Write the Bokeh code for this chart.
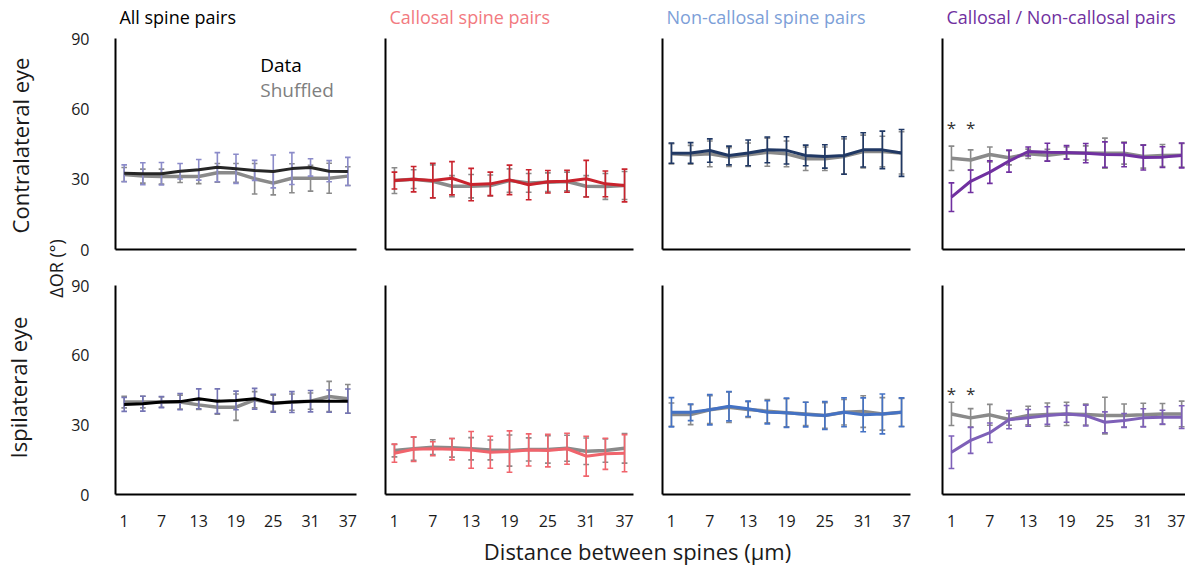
import math
from bokeh.plotting import figure
from bokeh.layouts import row, column
from bokeh.models import FixedTicker, Label, Range1d
from bokeh.embed import file_html
from bokeh.resources import INLINE
from bokeh.core.properties import value

# ---------------- data ----------------
distance = [1, 4, 7, 10, 13, 16, 19, 22, 25, 28, 31, 34, 37]
x_ticks = [1, 7, 13, 19, 25, 31, 37]
y_ticks = [0, 30, 60, 90]

col_titles = ["All spine pairs", "Callosal spine pairs",
              "Non-callosal spine pairs", "Callosal / Non-callosal pairs"]
row_titles = ["Contralateral eye", "Ispilateral eye"]
y_label = "\u0394OR (\u00b0)"
x_label = "Distance between spines (\u00b5m)"
legend_labels = ["Data", "Shuffled"]

# Contralateral eye
contra_all = [32.5, 32.3, 32.3, 33.4, 34.0, 35.1, 34.4, 33.7, 33.3, 34.5, 35.0, 33.4, 33.3]
contra_all_err = [3.6, 4.7, 4.8, 3.3, 4.4, 6.2, 6.2, 4.3, 7.0, 6.8, 3.7, 4.5, 6.0]
contra_all_shuf = [32.0, 31.3, 31.1, 31.1, 31.1, 32.7, 32.7, 30.2, 28.3, 30.4, 30.4, 30.4, 31.3]
contra_all_shuf_err = [3.0, 3.0, 3.2, 2.5, 3.0, 4.0, 4.0, 6.5, 5.0, 6.2, 5.5, 6.4, 4.0]

contra_cal = [29.4, 30.0, 29.4, 30.4, 27.7, 28.0, 29.7, 27.6, 28.9, 29.1, 30.2, 28.0, 27.3]
contra_cal_err = [3.6, 5.4, 7.4, 7.1, 6.9, 5.0, 6.3, 6.4, 4.8, 4.7, 7.8, 5.5, 7.0]
contra_cal_shuf = [29.4, 30.0, 29.1, 27.0, 27.0, 27.3, 29.4, 28.4, 28.7, 29.0, 27.0, 26.9, 27.3]
contra_cal_shuf_err = [5.5, 4.0, 7.0, 4.5, 5.0, 4.5, 5.0, 4.0, 4.0, 4.0, 4.5, 5.5, 6.0]

contra_non = [41.1, 41.2, 42.2, 40.1, 41.2, 42.5, 42.3, 40.1, 39.7, 40.1, 42.5, 42.5, 41.2]
contra_non_err = [4.3, 4.4, 5.0, 4.0, 5.5, 5.5, 5.8, 4.4, 5.0, 8.0, 7.3, 8.0, 10.0]
contra_non_shuf = [40.8, 40.4, 40.8, 39.4, 40.4, 41.5, 40.8, 38.7, 38.7, 39.7, 41.8, 41.8, 41.2]
contra_non_shuf_err = [4.3, 4.0, 5.5, 4.0, 5.0, 6.0, 5.5, 5.0, 5.0, 7.5, 7.0, 6.5, 9.0]

contra_ratio = [22.3, 29.1, 33.0, 37.7, 41.8, 41.5, 41.4, 41.1, 40.5, 40.4, 39.2, 39.4, 40.1]
contra_ratio_err = [6.1, 4.8, 4.8, 4.7, 1.9, 3.8, 2.9, 4.1, 5.4, 5.1, 5.3, 4.4, 5.3]
contra_ratio_shuf = [38.9, 38.2, 40.5, 39.1, 40.8, 40.2, 41.2, 41.2, 41.1, 41.1, 39.7, 40.1, 40.2]
contra_ratio_shuf_err = [5.2, 4.3, 3.2, 3.0, 2.0, 2.5, 2.5, 3.0, 6.4, 4.7, 5.0, 4.7, 5.0]

# Ipsilateral eye
ipsi_all = [38.8, 39.1, 39.8, 40.0, 41.2, 40.2, 40.5, 41.2, 39.3, 39.8, 40.2, 40.2, 40.2]
ipsi_all_err = [3.0, 3.2, 2.4, 3.5, 4.3, 5.3, 4.0, 4.5, 3.9, 4.5, 4.6, 4.8, 5.2]
ipsi_all_shuf = [39.8, 39.8, 39.8, 39.8, 38.6, 37.6, 37.6, 40.8, 39.3, 39.8, 40.2, 42.2, 41.2]
ipsi_all_shuf_err = [2.5, 2.5, 2.2, 3.0, 2.0, 3.0, 5.7, 3.5, 3.5, 3.5, 3.5, 6.5, 6.2]

ipsi_cal = [17.8, 19.5, 19.7, 19.5, 19.2, 18.2, 18.5, 19.2, 18.9, 19.7, 16.5, 17.5, 17.8]
ipsi_cal_err = [3.9, 5.3, 3.0, 4.6, 7.9, 6.9, 8.9, 6.9, 7.0, 6.7, 8.6, 6.7, 8.0]
ipsi_cal_shuf = [18.9, 19.7, 20.4, 20.1, 19.7, 19.2, 18.9, 19.4, 19.4, 19.9, 18.6, 18.9, 19.9]
ipsi_cal_shuf_err = [2.7, 5.0, 3.2, 4.0, 4.8, 4.3, 6.7, 5.0, 5.9, 5.6, 5.7, 5.0, 6.4]

ipsi_non = [35.4, 35.4, 36.5, 38.0, 36.9, 35.4, 35.2, 34.4, 34.0, 35.4, 34.3, 34.7, 35.4]
ipsi_non_err = [6.3, 3.6, 6.5, 6.3, 3.3, 5.0, 6.3, 5.3, 6.0, 6.2, 7.3, 8.6, 6.2]
ipsi_non_shuf = [34.4, 34.4, 36.5, 37.6, 36.6, 35.9, 35.2, 34.7, 34.0, 35.4, 35.7, 34.7, 35.4]
ipsi_non_shuf_err = [5.0, 4.3, 6.0, 6.6, 3.4, 5.0, 6.0, 5.0, 5.5, 5.5, 6.8, 7.0, 6.0]

ipsi_ratio = [18.2, 23.3, 26.6, 32.2, 33.0, 34.0, 34.7, 34.0, 31.1, 31.9, 33.0, 33.3, 33.3]
ipsi_ratio_err = [7.0, 5.6, 4.2, 3.9, 3.6, 3.8, 3.6, 4.5, 4.5, 3.0, 3.9, 3.0, 4.9]
ipsi_ratio_shuf = [34.7, 33.0, 34.3, 32.3, 34.0, 34.4, 34.7, 34.4, 34.0, 34.0, 34.3, 34.7, 34.7]
ipsi_ratio_shuf_err = [5.0, 4.0, 4.5, 2.5, 4.0, 5.0, 5.0, 4.5, 7.9, 5.0, 5.0, 4.5, 5.5]

# significance markers (x positions and heights)
sig_x = [1, 4]
sig_y = [52.0, 43.5]

# ---------------- style ----------------
FONT = "Open Sans"
GRAY = "#8a8a8a"
title_colors = ["#000000", "#f27a7f", "#7d9fd8", "#7030a0"]
line_colors = [["#262626", "#c9232d", "#203864", "#7030a0"],
               ["#000000", "#f0646c", "#4472c4", "#7e60b8"]]
err_colors = [["#8b8bc9", "#c9232d", "#203864", "#7030a0"],
              ["#7474b4", "#f0646c", "#4472c4", "#7e60b8"]]

panels = [
    [(contra_all, contra_all_err, contra_all_shuf, contra_all_shuf_err),
     (contra_cal, contra_cal_err, contra_cal_shuf, contra_cal_shuf_err),
     (contra_non, contra_non_err, contra_non_shuf, contra_non_shuf_err),
     (contra_ratio, contra_ratio_err, contra_ratio_shuf, contra_ratio_shuf_err)],
    [(ipsi_all, ipsi_all_err, ipsi_all_shuf, ipsi_all_shuf_err),
     (ipsi_cal, ipsi_cal_err, ipsi_cal_shuf, ipsi_cal_shuf_err),
     (ipsi_non, ipsi_non_err, ipsi_non_shuf, ipsi_non_shuf_err),
     (ipsi_ratio, ipsi_ratio_err, ipsi_ratio_shuf, ipsi_ratio_shuf_err)],
]

PX_PER_UNIT = 248 / 38.8
X_START = -0.4
x_ends = [38.4, 38.4, 38.4, 37.6]
borders_lr = [(40, 10), (19, 10), (19, 10), (22, 0)]
# top border, extra title space inside the frame, data height (0..90), bottom border
row_geo = [(0, 38, 211, 16), (20, 0, 209, 40)]
CAP = 0.45


def draw_errbars(p, ys, es, color):
    lo = [y - e for y, e in zip(ys, es)]
    hi = [y + e for y, e in zip(ys, es)]
    xl = [x - CAP for x in distance]
    xr = [x + CAP for x in distance]
    p.segment(x0=distance, y0=lo, x1=distance, y1=hi, line_color=color, line_width=1.6)
    p.segment(x0=xl, y0=hi, x1=xr, y1=hi, line_color=color, line_width=1.6)
    p.segment(x0=xl, y0=lo, x1=xr, y1=lo, line_color=color, line_width=1.6)


def frame_w(c):
    return int(round((x_ends[c] - X_START) * PX_PER_UNIT))


def make_panel(r, c):
    bl, br = borders_lr[c]
    bt, extra, fh, bb = row_geo[r]
    y_top = 90 * (fh + extra) / fh
    p = figure(width=bl + frame_w(c) + br, height=bt + extra + fh + bb,
               x_range=Range1d(X_START, x_ends[c]), y_range=Range1d(0, y_top),
               output_backend="svg", toolbar_location=None, title=None,
               min_border_left=bl, min_border_right=br,
               min_border_top=bt, min_border_bottom=bb)
    p.outline_line_color = None
    p.grid.visible = False
    p.xaxis.ticker = FixedTicker(ticks=x_ticks)
    p.yaxis.ticker = FixedTicker(ticks=y_ticks)
    p.yaxis.bounds = (0, 90)
    for ax in (p.xaxis[0], p.yaxis[0]):
        ax.axis_line_color = "#000000"
        ax.axis_line_width = 2
        ax.major_tick_line_color = None
        ax.minor_tick_line_color = None
        ax.major_label_text_font = FONT
        ax.major_label_text_font_size = "16px"
        ax.major_label_text_color = "#1a1a1a"
    if r == 1:
        p.xaxis.major_label_standoff = 14
    else:
        p.xaxis.major_label_standoff = 0
        p.xaxis.major_label_overrides = {t: "" for t in x_ticks}
        p.xaxis.major_label_text_font_size = "0px"
    if c == 0:
        p.yaxis.major_label_standoff = 20
    else:
        p.yaxis.major_label_standoff = 0
        p.yaxis.major_label_overrides = {t: "" for t in y_ticks}
        p.yaxis.major_label_text_font_size = "0px"

    if r == 0:
        # column title, in the space kept above the 0..90 data area
        p.add_layout(Label(x=X_START + 4 / PX_PER_UNIT, y=90 + 21.5 * 90 / fh,
                           text=col_titles[c], text_font=FONT, text_font_size="18px",
                           text_color=title_colors[c], text_align="left",
                           text_baseline="middle"))

    data, derr, shuf, serr = panels[r][c]
    draw_errbars(p, shuf, serr, GRAY)
    p.line(distance, shuf, line_color=GRAY, line_width=3.5)
    draw_errbars(p, data, derr, err_colors[r][c])
    p.line(distance, data, line_color=line_colors[r][c], line_width=3)

    if c == 3:
        p.text(x=sig_x, y=[sig_y[r]] * len(sig_x), text=["*"] * len(sig_x),
               text_align="center", text_baseline="middle",
               text_font=value(FONT), text_font_size="17px", text_color="#333333")

    if r == 0 and c == 0:
        p.add_layout(Label(x=22.9, y=78.5, text=legend_labels[0], text_font=FONT,
                           text_font_size="19px", text_color="#000000",
                           text_baseline="middle", text_align="left"))
        p.add_layout(Label(x=22.9, y=68.2, text=legend_labels[1], text_font=FONT,
                           text_font_size="19px", text_color="#7f7f7f",
                           text_baseline="middle", text_align="left"))
    return p


grid_rows = []
for r in range(2):
    grid_rows.append(row([make_panel(r, c) for c in range(4)], spacing=0))
grid = column(grid_rows, spacing=0)


def blank_fig(w, h):
    f = figure(width=w, height=h, x_range=Range1d(0, w), y_range=Range1d(0, h),
               output_backend="svg", toolbar_location=None, title=None,
               x_axis_location=None, y_axis_location=None,
               min_border=0, min_border_left=0, min_border_right=0,
               min_border_top=0, min_border_bottom=0)
    f.outline_line_color = None
    f.grid.visible = False
    return f


LEFT_W = 68
LEFT_H = sum(sum(g) for g in row_geo)
left = blank_fig(LEFT_W, LEFT_H)
left.add_layout(Label(x=19, y=LEFT_H - 145, text=row_titles[0], angle=math.pi / 2,
                      text_align="center", text_baseline="middle", text_font=FONT,
                      text_font_size="22px", text_color="#1a1a1a"))
left.add_layout(Label(x=17, y=LEFT_H - 387, text=row_titles[1], angle=math.pi / 2,
                      text_align="center", text_baseline="middle", text_font=FONT,
                      text_font_size="22px", text_color="#1a1a1a"))
left.add_layout(Label(x=55, y=LEFT_H - 268, text=y_label, angle=math.pi / 2,
                      text_align="center", text_baseline="middle", text_font=FONT,
                      text_font_size="18px", text_color="#1a1a1a"))

TOTAL_W = LEFT_W + sum(bl + frame_w(c) + br for c, (bl, br) in enumerate(borders_lr))
BOTTOM_H = 31
bottom = blank_fig(TOTAL_W, BOTTOM_H)
bottom.add_layout(Label(x=637, y=BOTTOM_H - 16, text=x_label, text_align="center",
                        text_baseline="middle", text_font=FONT,
                        text_font_size="22px", text_color="#1a1a1a"))

layout = column(row(left, grid, spacing=0), bottom, spacing=0)

open("out.html", "w").write(file_html(layout, INLINE))
